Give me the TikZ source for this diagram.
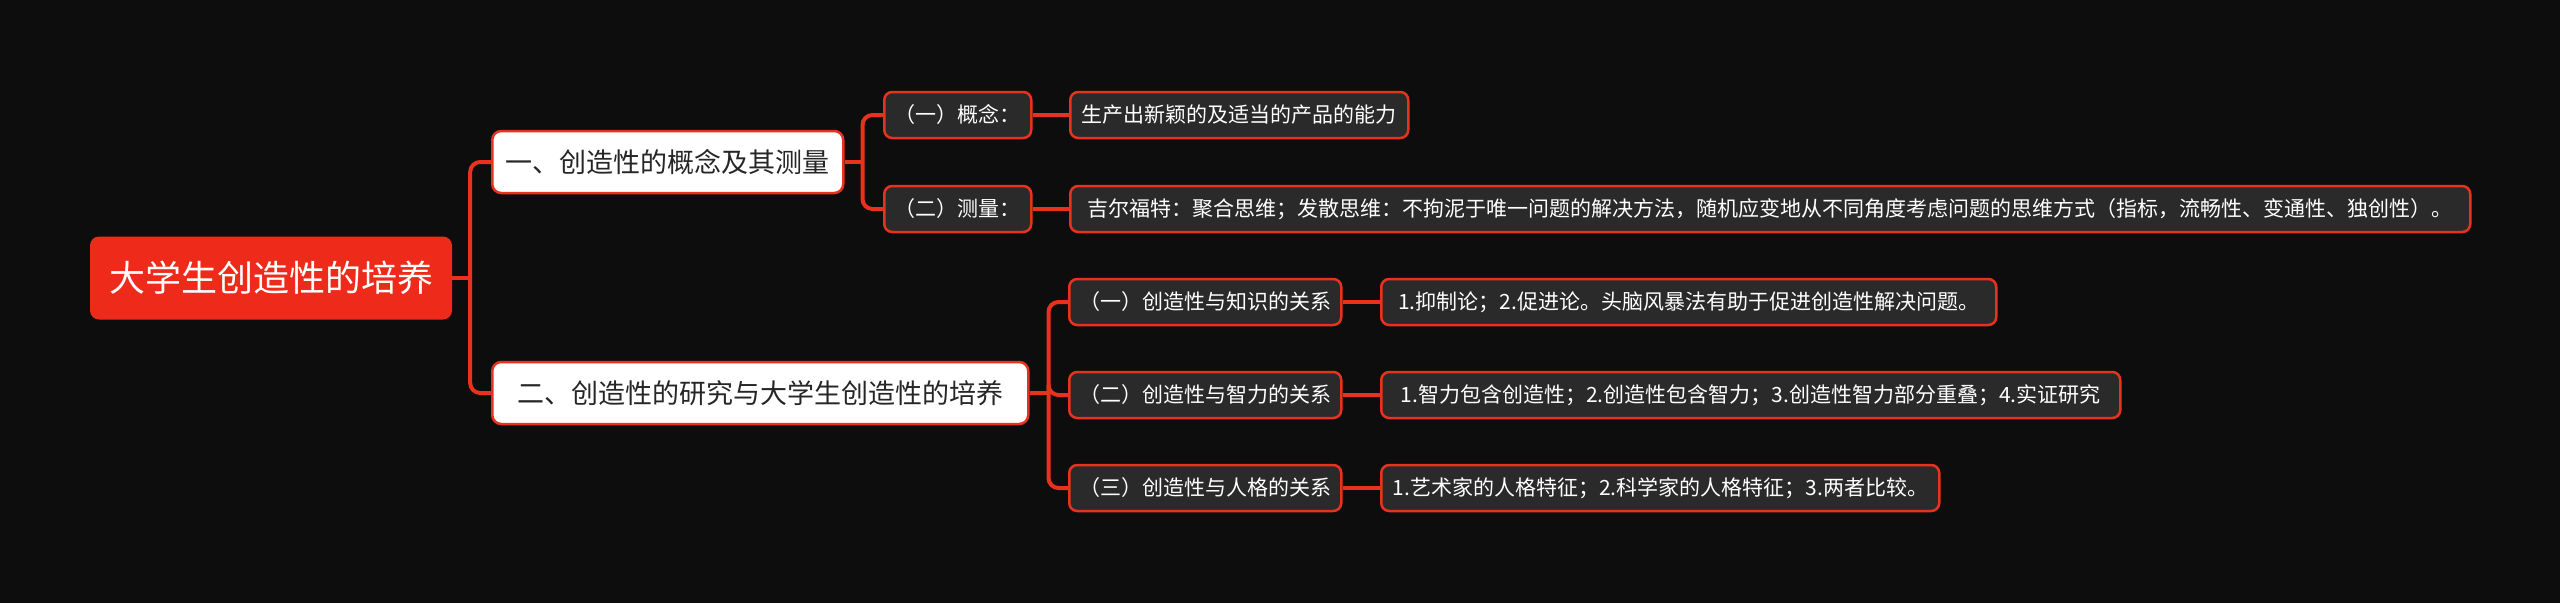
\documentclass[tikz,border=0pt]{standalone}
\usepackage{fontspec}
\newfontfamily\cjk{Noto Sans CJK SC}
\definecolor{bg}{HTML}{0D0D0D}
\definecolor{accent}{HTML}{E8321E}
\definecolor{rootred}{HTML}{EE2B1A}
\definecolor{boxfill}{HTML}{2A2A2A}
\begin{document}
\begin{tikzpicture}[x=1pt,y=-1pt,
  rootbox/.style={fill=rootred, rounded corners=9pt, text=white, font=\cjk\fontsize{36}{40}\selectfont, minimum height=83pt, inner sep=0pt},
  mainbox/.style={fill=white, draw=accent, line width=2.5pt, rounded corners=9pt, text=black!85, font=\cjk\fontsize{27}{32}\selectfont, minimum height=62pt, anchor=west, inner xsep=0pt},
  subbox/.style={fill=boxfill, draw=accent, line width=2.5pt, rounded corners=8pt, text=white, font=\cjk\fontsize{21}{25}\selectfont, minimum height=46pt, anchor=west, inner xsep=0pt},
  conn/.style={draw=accent, line width=4pt, rounded corners=10pt}]
\fill[bg] (0,0) rectangle (2560,603);
\useasboundingbox (0,0) rectangle (2560,603);

\node[rootbox, minimum width=362pt] (root) at (271,278) {大学生创造性的培养};

\node[mainbox, minimum width=351pt] (c1) at (491,162) {一、创造性的概念及其测量};
\node[mainbox, minimum width=536pt] (c2) at (491,393) {二、创造性的研究与大学生创造性的培养};

\node[subbox, minimum width=147pt] (s11) at (883,115) {（一）概念：};
\node[subbox, minimum width=338pt] (l11) at (1069,115) {生产出新颖的及适当的产品的能力};
\node[subbox, minimum width=147pt] (s12) at (883,209) {（二）测量：};
\node[subbox, minimum width=1400pt] (l12) at (1069,209) {吉尔福特：聚合思维；发散思维：不拘泥于唯一问题的解决方法，随机应变地从不同角度考虑问题的思维方式（指标，流畅性、变通性、独创性）。};

\node[subbox, minimum width=272pt] (s21) at (1068,302) {（一）创造性与知识的关系};
\node[subbox, minimum width=615pt] (l21) at (1380,302) {1.抑制论；2.促进论。头脑风暴法有助于促进创造性解决问题。};
\node[subbox, minimum width=272pt] (s22) at (1068,395) {（二）创造性与智力的关系};
\node[subbox, minimum width=739pt] (l22) at (1380,395) {1.智力包含创造性；2.创造性包含智力；3.创造性智力部分重叠；4.实证研究};
\node[subbox, minimum width=272pt] (s23) at (1068,488) {（三）创造性与人格的关系};
\node[subbox, minimum width=558pt] (l23) at (1380,488) {1.艺术家的人格特征；2.科学家的人格特征；3.两者比较。};

% connectors
\coordinate (t0) at ([xshift=18pt]root.east);
\draw[conn] (root.east) -- (t0);
\draw[conn] (t0) |- (c1.west);
\draw[conn] (t0) |- (c2.west);

\coordinate (t1) at ([xshift=18pt]c1.east);
\draw[conn] (c1.east) -- (t1);
\draw[conn] (t1) |- (s11.west);
\draw[conn] (t1) |- (s12.west);

\coordinate (t2) at ([xshift=19pt]c2.east);
\draw[conn] (c2.east) -- (t2);
\draw[conn] (t2) |- (s21.west);
\draw[conn] (t2) |- (s22.west);
\draw[conn] (t2) |- (s23.west);

\draw[conn] (s11.east) -- (l11.west);
\draw[conn] (s12.east) -- (l12.west);
\draw[conn] (s21.east) -- (l21.west);
\draw[conn] (s22.east) -- (l22.west);
\draw[conn] (s23.east) -- (l23.west);
\end{tikzpicture}
\end{document}
